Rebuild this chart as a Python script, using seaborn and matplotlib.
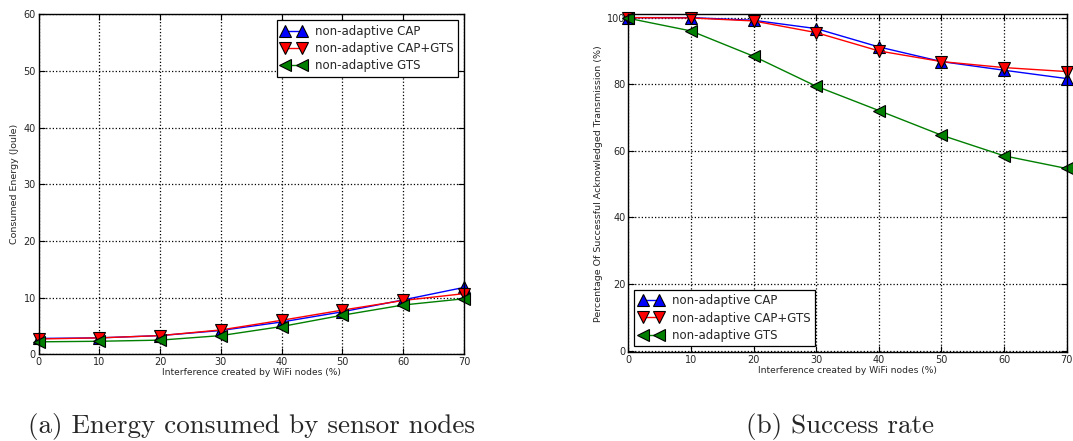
import matplotlib
matplotlib.use("Agg")
import matplotlib.pyplot as plt
import seaborn as sns
import numpy as np

interference = [0, 10, 20, 30, 40, 50, 60, 70]

energy_cap = [2.8, 2.9, 3.3, 4.2, 5.7, 7.5, 9.6, 11.8]
energy_capgts = [2.7, 2.9, 3.3, 4.3, 6.0, 7.8, 9.5, 10.7]
energy_gts = [2.2, 2.3, 2.5, 3.3, 4.9, 6.9, 8.7, 9.8]

success_cap = [100.0, 100.0, 99.2, 96.7, 91.2, 86.8, 84.2, 81.7]
success_capgts = [100.0, 99.9, 99.0, 95.5, 90.0, 86.8, 85.0, 83.8]
success_gts = [99.8, 96.0, 88.4, 79.4, 72.1, 64.7, 58.5, 54.7]

series_labels = ["non-adaptive CAP", "non-adaptive CAP+GTS", "non-adaptive GTS"]
colors = ["#0000ff", "#ff0000", "#007f00"]
markers = ["^", "v", "<"]

xticks = [0, 10, 20, 30, 40, 50, 60, 70]
energy_yticks = [0, 10, 20, 30, 40, 50, 60]
success_yticks = [0, 20, 40, 60, 80, 100]

x_label = "Interference created by WiFi nodes (%)"
energy_ylabel = "Consumed Energy (Joule)"
success_ylabel = "Percentage Of Successful Acknowledged Transmission (%)"
caption_a = "(a) Energy consumed by sensor nodes"
caption_b = "(b) Success rate"

sns.set_style("white", rc={
    "axes.edgecolor": "black",
    "xtick.direction": "in",
    "ytick.direction": "in",
    "xtick.top": True,
    "ytick.right": True,
    "xtick.bottom": True,
    "ytick.left": True,
})
plt.rcParams["font.family"] = ["DejaVu Sans"]

fig = plt.figure(figsize=(10.73, 4.41), dpi=100)
ax1 = fig.add_axes([0.0359, 0.1966, 0.3965, 0.771])
ax2 = fig.add_axes([0.5856, 0.2011, 0.4085, 0.7665])


def draw(ax, ys, ylim, yticks, ylabel, legend_loc):
    for y, lab, c, m in zip(ys, series_labels, colors, markers):
        sns.lineplot(x=interference, y=y, ax=ax, color=c, marker=m,
                     markersize=9, markeredgecolor="black", markeredgewidth=0.8,
                     linewidth=1.0, label=lab, clip_on=False, zorder=3)
    ax.set_xlim(0, 70)
    ax.set_ylim(*ylim)
    ax.set_xticks(xticks)
    ax.set_yticks(yticks)
    ax.tick_params(labelsize=7, length=4, width=0.8, color="black", pad=2)
    ax.grid(True, color="black", linestyle=":", linewidth=0.9)
    ax.set_axisbelow(True)
    for s in ax.spines.values():
        s.set_linewidth(1.0)
        s.set_color("black")
        s.set_zorder(4)
    ax.set_xlabel(x_label, fontsize=6.6, labelpad=1)
    ax.set_ylabel(ylabel, fontsize=6.8, labelpad=3)
    leg = ax.legend(loc=legend_loc, numpoints=2, fontsize=8.5, fancybox=False,
                    framealpha=1, edgecolor="black", handlelength=2.0,
                    borderaxespad=0.5, borderpad=0.4, labelspacing=0.35,
                    handletextpad=0.8)
    leg.get_frame().set_linewidth(0.9)


draw(ax1, [energy_cap, energy_capgts, energy_gts], (0, 60), energy_yticks,
     energy_ylabel, "upper right")
draw(ax2, [success_cap, success_capgts, success_gts], (-0.5, 101), success_yticks,
     success_ylabel, "lower left")

fig.text(252 / 1073, 1 - 426 / 441, caption_a, fontsize=19.5, family="cmr10",
         ha="center", va="center")
fig.text(840 / 1073, 1 - 426 / 441, caption_b, fontsize=19.5, family="cmr10",
         ha="center", va="center")

fig.savefig("out.png", dpi=100)
